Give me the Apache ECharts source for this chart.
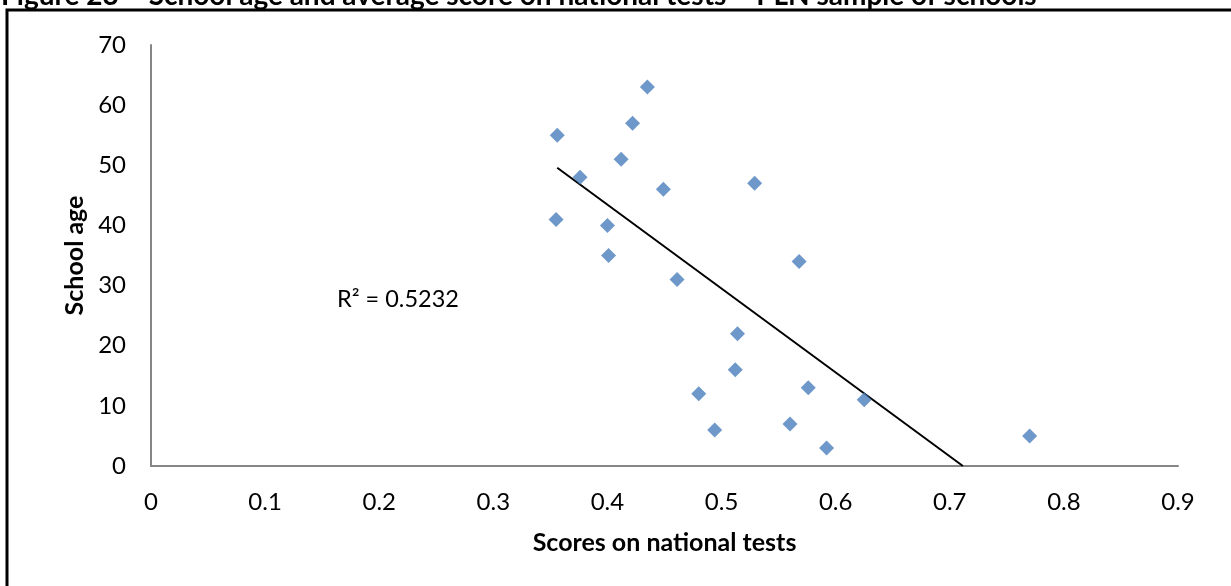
<!DOCTYPE html>
<html>
<head>
<meta charset="utf-8">
<script src="https://cdn.jsdelivr.net/npm/echarts@6/dist/echarts.min.js"></script>
<style>
html,body{margin:0;padding:0;background:#fff;}
#chart{width:1231px;height:586px;}
</style>
</head>
<body>
<div id="chart"></div>
<script>
// Scores on national tests (x) and school age (y)
const scores = [0.435, 0.422, 0.356, 0.412, 0.376, 0.449, 0.529, 0.355, 0.400, 0.401, 0.568, 0.461, 0.514, 0.512, 0.576, 0.480, 0.625, 0.494, 0.560, 0.592, 0.770];
const ages   = [63, 57, 55, 51, 48, 46, 47, 41, 40, 35, 34, 31, 22, 16, 13, 12, 11, 6, 7, 3, 5];
// Linear trendline endpoints as drawn (clipped at y = 0)
const trendX = [0.356, 0.7115];
const trendY = [49.6, 0];
const titleText = 'Figure 23 – School age and average score on national tests – PLN sample of schools';
const xTitle = 'Scores on national tests';
const yTitle = 'School age';
const rLabel = 'R² = 0.5232';

const FONT = 'Lato';
const chart = echarts.init(document.getElementById('chart'));
const pts = scores.map((s, i) => [s, ages[i]]);
const trend = trendX.map((x, i) => [x, trendY[i]]);

chart.setOption({
  animation: false,
  backgroundColor: '#fff',
  textStyle: {fontFamily: FONT},
  grid: {left: 151, top: 45, right: 53, bottom: 120, containLabel: false},
  xAxis: {
    type: 'value', min: 0, max: 0.9, interval: 0.1,
    name: xTitle, nameLocation: 'middle', nameGap: 64,
    nameTextStyle: {fontFamily: FONT, fontSize: 25, fontWeight: 'bold', color: '#000'},
    axisLine: {show: true, lineStyle: {color: '#868686', width: 2}},
    axisTick: {show: false},
    splitLine: {show: false},
    axisLabel: {fontFamily: FONT, fontSize: 24, color: '#000', margin: 24,
      formatter: v => (Math.round(v * 10) / 10).toString()}
  },
  yAxis: {
    type: 'value', min: 0, max: 70, interval: 10,
    name: yTitle, nameLocation: 'middle', nameGap: 58, nameRotate: 90,
    nameTextStyle: {fontFamily: FONT, fontSize: 25, fontWeight: 'bold', color: '#000'},
    axisLine: {show: true, lineStyle: {color: '#868686', width: 2}},
    axisTick: {show: false},
    splitLine: {show: false},
    axisLabel: {fontFamily: FONT, fontSize: 24, color: '#000', margin: 25}
  },
  graphic: [
    {type: 'rect', shape: {x: 7, y: 10, width: 1300, height: 700}, style: {fill: 'none', stroke: '#000', lineWidth: 3}, z: 0, silent: true},
    {type: 'text', x: 1, y: 10, style: {text: titleText, font: 'bold 28px ' + FONT, fill: '#000', verticalAlign: 'bottom'}, z: 10},
    {type: 'text', x: 337, y: 299, style: {text: rLabel, font: '23.5px ' + FONT, fill: '#000', verticalAlign: 'middle'}, z: 10}
  ],
  series: [
    {
      type: 'scatter', data: pts, symbol: 'diamond', symbolSize: 15,
      itemStyle: {color: '#4a7ebb'}, z: 3
    },
    {
      type: 'line', data: trend, symbol: 'none',
      lineStyle: {color: '#000', width: 2}, z: 2
    }
  ]
});
</script>
</body>
</html>
